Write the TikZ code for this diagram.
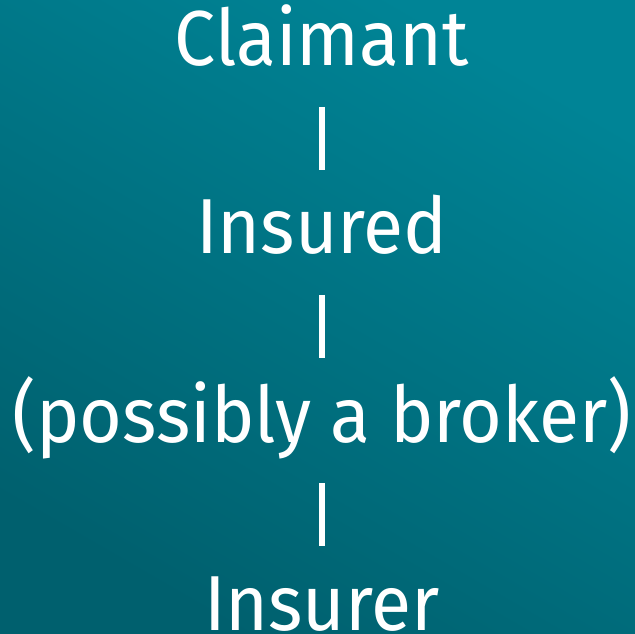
\documentclass[tikz,border=0pt]{standalone}
\usepackage{fontspec}
\setmainfont[FakeStretch=0.94]{Fira Sans}
\definecolor{tealtop}{RGB}{0,132,150}
\definecolor{tealbottom}{RGB}{0,96,110}
\begin{document}
\begin{tikzpicture}[x=1pt,y=1pt,
        party/.style={text=white, anchor=base, inner sep=0pt, font=\fontsize{78}{80}\selectfont},
        link/.style={draw, white, line width=6pt, shorten <=41pt, shorten >=84pt}]

        % background
        \path[shading=axis, top color=tealtop, bottom color=tealbottom, shading angle=-30]
            (0,0) rectangle (635,633);
        \useasboundingbox (0,0) rectangle (635,633);

        \node[party] (claimant) at (322,567) {Claimant};
        \node[party] (insured) at (322,379) {Insured};
        \node[party] (broker) at (322,191) {(possibly a broker)};
        \node[party] (insurer) at (322,3) {Insurer};

        \path[link] (claimant.base) -- (insured.base);
        \path[link] (insured.base) -- (broker.base);
        \path[link] (broker.base) -- (insurer.base);
    \end{tikzpicture}
\end{document}
